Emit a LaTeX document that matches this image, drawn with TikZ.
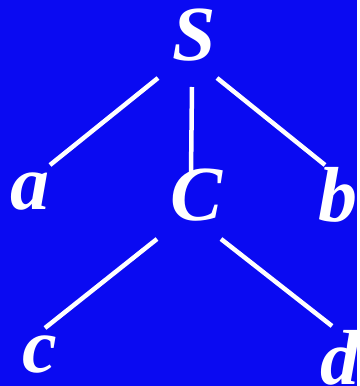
\documentclass[tikz,border=0pt]{standalone}
\usepackage{fontspec}
\setmainfont{Liberation Serif}
\usepackage{xcolor}
\usepackage{tikz}
\definecolor{board}{HTML}{0A0AF2}

\begin{document}
\begin{tikzpicture}[x=1pt,y=-1pt,
    sym/.style={anchor=base,text=white,inner sep=0pt,font=\fontsize{78}{80}\selectfont\bfseries\itshape},
    edge/.style={draw=white,line width=4.5pt}]
  \fill[board] (0,0) rectangle (357,386);
  \node[sym] (S) at (194,60) {S};
  \node[sym] (a) at (30,209) {a};
  \node[sym] (C) at (197,220) {C};
  \node[sym] (b) at (338,221) {b};
  \node[sym] (c) at (40,372) {c};
  \node[sym] (d) at (340,384) {d};
  \draw[edge] ([shift={(-36,18)}]S.base) -- ([shift={(20,-44)}]a.base);
  \draw[edge] ([shift={(-2,27)}]S.base) -- ([shift={(-6,-47)}]C.base);
  \draw[edge] ([shift={(23,18)}]S.base) -- ([shift={(-13,-56)}]b.base);
  \draw[edge] ([shift={(-40,19)}]C.base) -- ([shift={(5,-44)}]c.base);
  \draw[edge] ([shift={(24,19)}]C.base) -- ([shift={(-8,-58)}]d.base);
\end{tikzpicture}
\end{document}
